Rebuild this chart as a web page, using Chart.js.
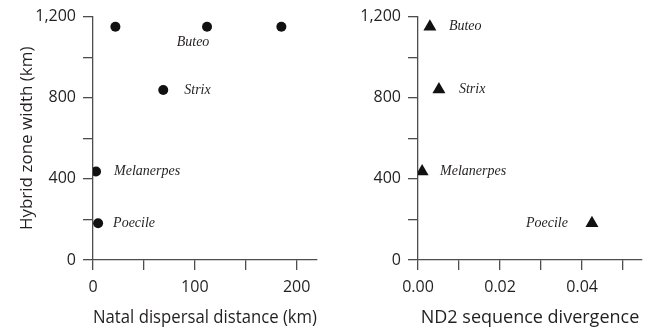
<!DOCTYPE html>
<html>
<head>
<meta charset="utf-8">
<script src="https://cdn.jsdelivr.net/npm/chart.js@4.4.1/dist/chart.umd.min.js"></script>
<style>
  html, body { margin: 0; padding: 0; background: #fff; }
  #wrap { position: relative; width: 660px; height: 330px; }
  .panel { position: absolute; top: 0; width: 330px; height: 330px; }
</style>
</head>
<body>
<div id="wrap">
  <div class="panel" style="left:0"><canvas id="dispersalChart" width="330" height="330"></canvas></div>
  <div class="panel" style="left:330px"><canvas id="divergenceChart" width="330" height="330"></canvas></div>
</div>
<script>
// ===== DATA =====
const dispersalKm = [22, 112, 185, 69, 3, 5];
const dispersalWidth = [1150, 1150, 1150, 838, 436, 181];
const dispersalNames = ['', 'Buteo', '', 'Strix', 'Melanerpes', 'Poecile'];

const divergenceNd2 = [0.0029, 0.0051, 0.001, 0.0424];
const divergenceWidth = [1150, 840, 436, 181];
const divergenceNames = ['Buteo', 'Strix', 'Melanerpes', 'Poecile'];

const widthTicks = [0, 200, 400, 600, 800, 1000, 1200];
const dispersalTicks = [0, 50, 100, 150, 200];
const divergenceTicks = [0, 0.01, 0.02, 0.03, 0.04, 0.05];

const INK = '#231f20';
const AXIS = '#4d4d4d';
const SANS = '"Open Sans", "DejaVu Sans", sans-serif';

// label offsets per point (dx, dy, align)
const dispersalLabelPos = [null, [-14, 16, 'center'], null, [21, 0, 'left'], [18, 0, 'left'], [15, 0, 'left']];
const divergenceLabelPos = [[19, 0, 'left'], [20, 0, 'left'], [18, 0, 'left'], [-24, 0, 'right']];

// Plugin that writes the italic genus names next to the points
const genusLabels = {
    id: 'genusLabels',
    afterDatasetsDraw(chart, args, opts) {
        const ctx = chart.ctx;
        const meta = chart.getDatasetMeta(0);
        ctx.save();
        ctx.font = 'italic 14px "Liberation Serif", "DejaVu Serif", serif';
        ctx.fillStyle = INK;
        ctx.textBaseline = 'middle';
        meta.data.forEach((pt, i) => {
            const name = opts.names[i];
            const pos = opts.pos[i];
            if (!name || !pos) return;
            ctx.textAlign = pos[2];
            ctx.fillText(name, pt.x + pos[0], pt.y + pos[1]);
        });
        ctx.restore();
    }
};

function fixedTicks(values) {
    return function(scale) {
        scale.ticks = values.map(v => ({ value: v }));
    };
}

function makeChart(id, xs, ys, names, labelPos, opts) {
    const ctx = document.getElementById(id);
    const points = xs.map((x, i) => ({ x: x, y: ys[i] }));
    return new Chart(ctx, {
        type: 'scatter',
        data: {
            datasets: [{
                data: points,
                pointStyle: opts.pointStyle,
                pointRadius: opts.pointRadius,
                pointBackgroundColor: '#111',
                pointBorderColor: '#111',
                pointBorderWidth: 0
            }]
        },
        plugins: [genusLabels],
        options: {
            responsive: false,
            animation: false,
            events: [],
            layout: { padding: { left: 0, right: opts.padRight, top: 15, bottom: 0 } },
            plugins: {
                legend: { display: false },
                tooltip: { enabled: false },
                genusLabels: { names: names, pos: labelPos }
            },
            scales: {
                x: {
                    type: 'linear',
                    min: 0,
                    max: opts.xMax,
                    afterBuildTicks: fixedTicks(opts.xTicks),
                    afterFit: function(scale) { scale.height = 70; },
                    grid: { drawOnChartArea: false, drawTicks: true, tickLength: 10, color: AXIS, lineWidth: 1.3 },
                    border: { display: true, color: AXIS, width: 1.3 },
                    ticks: {
                        autoSkip: false,
                        maxRotation: 0,
                        padding: 8,
                        color: INK,
                        font: { family: SANS, size: 16 },
                        callback: opts.xLabel
                    },
                    title: {
                        display: true,
                        text: opts.xTitle,
                        color: INK,
                        font: { family: SANS, size: 18 },
                        padding: { top: 0, bottom: 1 }
                    }
                },
                y: {
                    type: 'linear',
                    min: 0,
                    max: 1200,
                    afterBuildTicks: fixedTicks(widthTicks),
                    afterFit: function(scale) { scale.width = opts.yWidth; },
                    grid: { drawOnChartArea: false, drawTicks: true, tickLength: 10, color: AXIS, lineWidth: 1.3 },
                    border: { display: true, color: AXIS, width: 1.3 },
                    ticks: {
                        autoSkip: false,
                        padding: 7,
                        color: INK,
                        font: { family: SANS, size: 16 },
                        callback: function(v) {
                            return v % 400 === 0 ? v.toLocaleString('en-US') : '';
                        }
                    },
                    title: {
                        display: opts.yTitle !== '',
                        text: opts.yTitle,
                        color: INK,
                        font: { family: SANS, size: 17 },
                        padding: { top: 17, bottom: 0 }
                    }
                }
            }
        }
    });
}

makeChart('dispersalChart', dispersalKm, dispersalWidth, dispersalNames, dispersalLabelPos, {
    pointStyle: 'circle',
    pointRadius: 5,
    padRight: 13,
    yWidth: 93,
    xMax: 220,
    xTicks: dispersalTicks,
    xLabel: function(v) { return v % 100 === 0 ? String(v) : ''; },
    xTitle: 'Natal dispersal distance (km)',
    yTitle: 'Hybrid zone width (km)'
});

makeChart('divergenceChart', divergenceNd2, divergenceWidth, divergenceNames, divergenceLabelPos, {
    pointStyle: 'triangle',
    pointRadius: 7.5,
    padRight: 18,
    yWidth: 88,
    xMax: 0.0546,
    xTicks: divergenceTicks,
    xLabel: function(v) {
        const k = Math.round(v * 100);
        return k % 2 === 0 ? v.toFixed(2) : '';
    },
    xTitle: 'ND2 sequence divergence',
    yTitle: ''
});
</script>
</body>
</html>
